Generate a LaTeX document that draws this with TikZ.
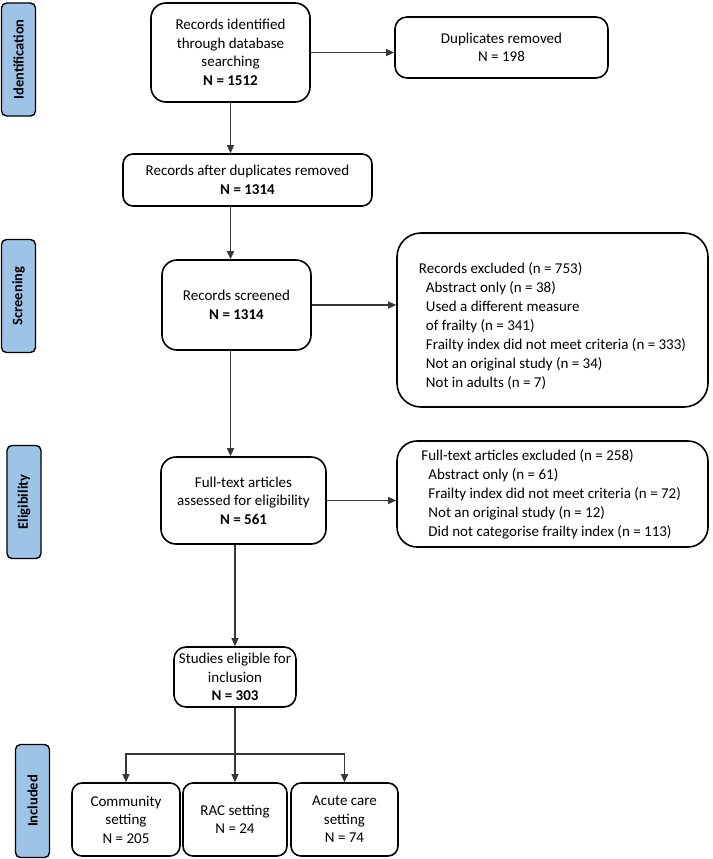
\documentclass[tikz,border=0pt]{standalone}
\usepackage{fontspec}
\setmainfont{Carlito}
\usetikzlibrary{arrows.meta}
\definecolor{stageblue}{RGB}{157,195,230}
\definecolor{arrowgray}{RGB}{55,55,55}
\begin{document}
\begin{tikzpicture}[x=1pt,y=-1pt,
  box/.style={draw=black,line width=1.6pt,align=center,inner sep=2pt,font=\fontsize{15}{18.5}\selectfont},
  listbox/.style={box,align=left,font=\fontsize{15}{19}\selectfont},
  stage/.style={draw=black,line width=1.4pt,fill=stageblue,rounded corners=5pt,rotate=90,minimum width=113pt,minimum height=34pt,font=\fontsize{14.5}{16}\selectfont\bfseries,inner sep=0pt},
  arr/.style={draw=arrowgray,line width=1.2pt,-{Triangle[length=8pt,width=7pt]}},
  ln/.style={draw=arrowgray,line width=1.2pt}
]
\useasboundingbox (0,0) rectangle (712,859);
% stage labels
\node[stage] (s1) at (18.5,59.5) {Identification};
\node[stage] (s2) at (18.5,296) {Screening};
\node[stage] (s3) at (24,502) {Eligibility};
\node[stage] (s4) at (32.5,801) {Included};
% boxes
\node[box,rounded corners=15pt,minimum width=159pt,minimum height=99pt] (id) at (230.5,52.5) {Records identified\\through database\\searching\\\textbf{N = 1512}};
\node[box,rounded corners=12pt,minimum width=213pt,minimum height=61pt] (dup) at (501.5,47.5) {Duplicates removed\\N = 198};
\node[box,rounded corners=10pt,minimum width=249pt,minimum height=52pt] (after) at (247.5,180) {Records after duplicates removed\\\textbf{N = 1314}};
\node[box,rounded corners=15pt,minimum width=149pt,minimum height=90pt] (scr) at (236.5,305) {Records screened\\\textbf{N = 1314}};
\node[listbox,rounded corners=24pt,minimum width=311pt,minimum height=174pt] (ex1) at (552.5,320) {\rule{0pt}{24pt}Records excluded (n = 753)\\
\hspace*{7pt}Abstract only (n = 38)\\
\hspace*{7pt}Used a different measure\\
\hspace*{7pt}of frailty (n = 341)\\
\hspace*{7pt}Frailty index did not meet criteria (n = 333)\\
\hspace*{7pt}Not an original study (n = 34)\\
\hspace*{7pt}Not in adults (n = 7)};
\node[box,rounded corners=15pt,minimum width=165pt,minimum height=87pt] (full) at (243.5,500.5) {Full-text articles\\assessed for eligibility\\\textbf{N = 561}};
\node[listbox,rounded corners=20pt,minimum width=311pt,minimum height=106pt] (ex2) at (552.5,494) {Full-text articles excluded (n = 258)\\
\hspace*{7pt}Abstract only (n = 61)\\
\hspace*{7pt}Frailty index did not meet criteria (n = 72)\\
\hspace*{7pt}Not an original study (n = 12)\\
\hspace*{7pt}Did not categorise frailty index (n = 113)\hspace*{12pt}};
\node[box,rounded corners=12pt,minimum width=122pt,minimum height=60pt] (elig) at (235,677) {Studies eligible for\\inclusion\\\textbf{N = 303}};
\node[box,rounded corners=10pt,minimum width=108pt,minimum height=73pt] (comm) at (126,819.5) {Community\\setting\\N = 205};
\node[box,rounded corners=10pt,minimum width=104pt,minimum height=73pt] (rac) at (235,819.5) {RAC setting\\N = 24};
\node[box,rounded corners=10pt,minimum width=107pt,minimum height=73pt] (acute) at (344.5,819.5) {Acute care\\setting\\N = 74};
\coordinate (split) at (235,754);
% connectors
\draw[arr] (id) -- (id -| dup.west);
\draw[arr] (id.south) -- (id.south |- after.north);
\draw[arr] (id.south |- after.south) -- (id.south |- scr.north);
\draw[arr] (scr) -- (scr -| ex1.west);
\draw[arr] (id.south |- scr.south) -- (id.south |- full.north);
\draw[arr] (full) -- (full -| ex2.west);
\draw[arr] (elig.north |- full.south) -- (elig.north);
\draw[ln] (elig.south) -- (split);
\draw[arr] (split) -- (split |- rac.north);
\draw[arr] (split) -| (comm.north);
\draw[arr] (split) -| (acute.north);
\end{tikzpicture}
\end{document}
